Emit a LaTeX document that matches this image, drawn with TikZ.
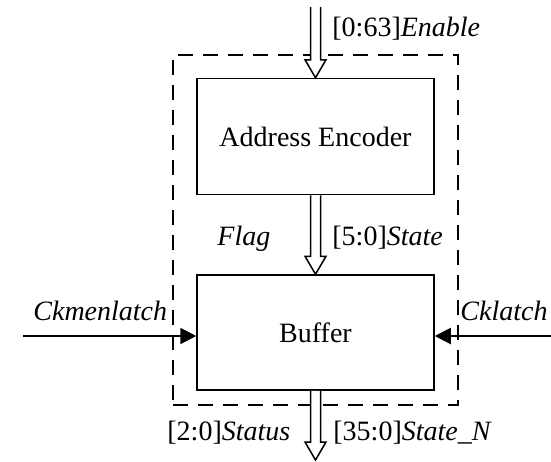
\documentclass[tikz,border=0pt]{standalone}
\usepackage{fontspec}
\setmainfont{Liberation Serif}
\usetikzlibrary{arrows.meta, positioning, calc}

% hollow bus arrow, pointing down from #1 to #2
\newcommand{\busarrow}[2]{%
  \draw[busline] ($(#1)+(-2.5pt,0)$) -- ($(#2)+(-2.5pt,9pt)$) -- ($(#2)+(-5.25pt,9pt)$)
    -- (#2) -- ($(#2)+(5.25pt,9pt)$) -- ($(#2)+(2.5pt,9pt)$) -- ($(#1)+(2.5pt,0)$);
}

\begin{document}
\begin{tikzpicture}[
    x=0.5pt, y=-0.5pt,
    block/.style={draw, line width=0.75pt, minimum width=118.5pt, minimum height=58pt, align=center, font=\fontsize{14}{16}\selectfont},
    sysbox/.style={draw, line width=1pt, dash pattern=on 7.5pt off 5pt, minimum width=142.5pt, minimum height=175pt},
    busline/.style={line width=0.75pt, fill=white, line join=miter},
    sig/.style={font=\fontsize{14}{16}\selectfont, inner sep=0pt},
    >={Triangle[length=8pt, width=8pt]}
]
\useasboundingbox (0,0) rectangle (551,461);

% System boundary
\node[sysbox] (sys) at (315.5,230) {};

% Blocks
\node[block] (enc) at (315.5,136.5) {Address Encoder};
\node[block, minimum height=57.5pt] (buf) at (315.5,332.5) {Buffer};

% Free ends
\coordinate (enin) at (315.5,7);
\coordinate (outend) at (315.5,460);
\coordinate (ckl) at (23,336);
\coordinate (ckr) at (551,336);

% Bus arrows
\busarrow{enin}{enc.north}
\busarrow{enc.south}{buf.north}
\busarrow{buf.south}{outend}

% Clock inputs
\draw[->, line width=1pt] (ckl) -- (buf.west |- ckl);
\draw[->, line width=1pt] (ckr) -- (buf.east |- ckr);

% Labels
\node[sig, anchor=base west] (lenable) at (332,36) {[0:63]\textit{Enable}};
\node[sig, anchor=base west] (lflag) at (217,245) {\textit{Flag}};
\node[sig, anchor=base west] (lstate) at (332,245) {[5:0]\textit{State}};
\node[sig, anchor=base west] (lckm) at (33,320) {\textit{Ckmenlatch}};
\node[sig, anchor=base west] (lckl) at (460,320) {\textit{Cklatch}};
\node[sig, anchor=base west] (lstatus) at (167,440) {[2:0]\textit{Status}};
\node[sig, anchor=base west] (lstaten) at (333,440) {[35:0]\textit{State\_N}};

\end{tikzpicture}
\end{document}
